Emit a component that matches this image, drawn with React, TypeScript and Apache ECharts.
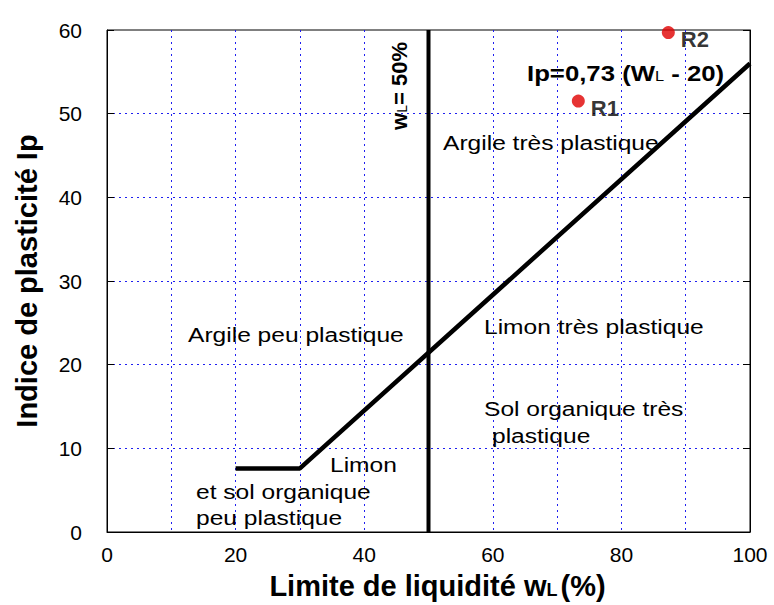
import React, { useEffect, useRef } from "react";
import * as echarts from "echarts";

// ---- data ----
const xTickLabels = [0, 20, 40, 60, 80, 100];
const yTickLabels = [0, 10, 20, 30, 40, 50, 60];
// A-line (Casagrande)
const aLineWL = [20, 30, 100];
const aLineIp = [7.6, 7.6, 56];
// vertical limit wL = 50 %
const limitWL = [50, 50];
const limitIp = [0, 60];
// samples
const sampleNames = ["R1", "R2"];
const sampleWL = [73.3, 87.3];
const sampleIp = [51.5, 59.7];

const FONT = "'Liberation Sans', Arial, sans-serif";
const SX = 1.17;

function txt(text: string, x: number, y: number, extra: any = {}) {
  return {
    type: "text",
    x,
    y,
    scaleX: SX,
    silent: true,
    z: 50,
    style: {
      text,
      fill: "#000",
      fontFamily: FONT,
      fontSize: 21,
      verticalAlign: "middle",
      align: "left",
      ...extra,
    },
  };
}

export default function App() {
  const ref = useRef<HTMLDivElement>(null);
  useEffect(() => {
    document.body.style.margin = "0";
    const chart = echarts.init(ref.current!, null, { renderer: "svg" });
    const option: any = {
      animation: false,
      backgroundColor: "#fff",
      textStyle: { fontFamily: FONT },
      grid: {
        left: 107,
        right: 24,
        top: 30,
        bottom: 72,
        show: true,
        borderColor: "#000",
        borderWidth: 1,
        backgroundColor: "transparent",
      },
      xAxis: {
        type: "value",
        min: 0,
        max: 100,
        interval: 10,
        name: "Limite de liquidité w{s|L}(%)",
        nameLocation: "middle",
        nameGap: 39,
        nameTextStyle: {
          fontFamily: FONT,
          fontSize: 29,
          fontWeight: "bold",
          color: "#000",
          padding: [0, 0, 0, 18],
          rich: {
            s: { fontFamily: FONT, fontSize: 18, fontWeight: "bold", color: "#000", padding: [8, 3, 0, 0] },
          },
        },
        axisLine: { show: true, lineStyle: { color: "#000", width: 1 } },
        axisTick: { show: false },
        axisLabel: {
          margin: 12,
          color: "#000",
          fontFamily: FONT,
          fontSize: 21,
          formatter: (v: number) => (xTickLabels.includes(v) ? String(v) : ""),
        },
        splitLine: {
          show: true,
          showMinLine: false,
          showMaxLine: false,
          lineStyle: { color: "#1f1ff0", type: [2, 4], width: 1 },
        },
      },
      yAxis: [
        {
          type: "value",
          min: 0,
          max: 60,
          interval: 10,
          name: "Indice de plasticité Ip",
          nameLocation: "middle",
          nameGap: 66,
          nameTextStyle: { fontFamily: FONT, fontSize: 29, fontWeight: "bold", color: "#000" },
          axisLine: { show: true, lineStyle: { color: "#000", width: 1 } },
          axisTick: { show: true, inside: true, length: 7, lineStyle: { color: "#000" } },
          axisLabel: {
            margin: 25,
            color: "#000",
            fontFamily: FONT,
            fontSize: 21,
            formatter: (v: number) => (yTickLabels.includes(v) ? String(v) : ""),
          },
          splitLine: {
            show: true,
            showMinLine: false,
            showMaxLine: false,
            lineStyle: { color: "#1f1ff0", type: [2, 4], width: 1 },
          },
        },
        {
          type: "value",
          min: 0,
          max: 60,
          interval: 10,
          position: "right",
          axisLine: { show: true, lineStyle: { color: "#000", width: 1 } },
          axisTick: { show: true, inside: true, length: 7, lineStyle: { color: "#000" } },
          axisLabel: { show: false },
          splitLine: { show: false },
        },
      ],
      series: [
        {
          type: "line",
          data: aLineWL.map((x, i) => [x, aLineIp[i]]),
          showSymbol: false,
          symbol: "none",
          lineStyle: { color: "#000", width: 4.5 },
          z: 5,
        },
        {
          type: "line",
          data: limitWL.map((x, i) => [x, limitIp[i]]),
          showSymbol: false,
          symbol: "none",
          clip: false,
          lineStyle: { color: "#000", width: 4 },
          z: 5,
        },
        {
          type: "scatter",
          data: sampleNames.map((n, i) => ({ name: n, value: [sampleWL[i], sampleIp[i]] })),
          symbolSize: 13,
          itemStyle: { color: "#e00000" },
          label: {
            show: true,
            position: "right",
            distance: 6,
            offset: [0, 7],
            formatter: "{b}",
            fontFamily: FONT,
            fontSize: 22,
            fontWeight: "bold",
            color: "#000",
            textBorderWidth: 0,
          },
          z: 10,
        },
      ],
      graphic: [
        txt("Argile très plastique", 443, 143),
        txt("Argile peu plastique", 188, 335),
        txt("Limon très plastique", 484, 327),
        txt("Sol organique très", 484, 409),
        txt("plastique", 492, 436),
        txt("Limon", 330, 465),
        txt("et sol organique", 196, 492),
        txt("peu plastique", 196, 518),
        {
          type: "text",
          x: 527,
          y: 73,
          scaleX: 1.17,
          silent: true,
          z: 50,
          style: {
            text: "Ip=0,73 (W{s|L} - 20)",
            fill: "#000",
            fontFamily: FONT,
            fontSize: 22,
            fontWeight: "bold",
            verticalAlign: "middle",
            align: "left",
            rich: {
              s: { fontFamily: FONT, fontSize: 14, fontWeight: "normal", fill: "#000", padding: [6, 0, 0, 0] },
            },
          },
        },
        {
          type: "text",
          x: 399,
          y: 86,
          rotation: Math.PI / 2,
          silent: true,
          z: 50,
          style: {
            text: "w{s|L}= 50%",
            fill: "#000",
            fontFamily: FONT,
            fontSize: 22,
            fontWeight: "bold",
            verticalAlign: "middle",
            align: "center",
            rich: {
              s: { fontFamily: FONT, fontSize: 14, fontWeight: "normal", fill: "#000", padding: [6, 0, 0, 0] },
            },
          },
        },
      ],
    };
    chart.setOption(option);
    return () => chart.dispose();
  }, []);
  return <div ref={ref} style={{ width: 774, height: 605 }} />;
}
